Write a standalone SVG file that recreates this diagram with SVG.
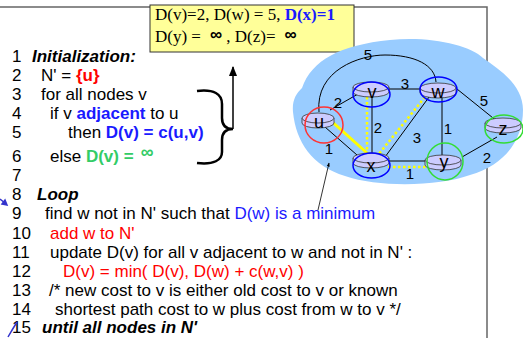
<svg xmlns="http://www.w3.org/2000/svg" width="523" height="338" viewBox="0 0 523 338">
<style>
.code{font-family:"Liberation Sans",Arial,sans-serif;font-size:17px;fill:#000}
.bi{font-weight:bold;font-style:italic}
.b{font-weight:bold}
.red{fill:#ff0000}
.blue{fill:#1a1aff}
.green{fill:#33cc66}
.box{font-family:"Liberation Serif","Times New Roman",serif;font-size:17px;fill:#000}
.inf{font-family:"Liberation Sans",Arial,sans-serif;font-weight:bold;font-size:18px}
.infs{font-family:"Liberation Sans",Arial,sans-serif;font-weight:bold;font-size:17px}
.edge{stroke:#000;stroke-width:1;fill:none}
.dot{stroke:#ffff00;stroke-width:2.5;stroke-dasharray:2.5 2.5;fill:none}
.disc{fill:#ccccff;stroke:#333;stroke-width:0.8}
.nl{font-family:"Liberation Sans",Arial,sans-serif;font-size:18px;fill:#000;text-anchor:middle}
.el{font-family:"Liberation Sans",Arial,sans-serif;font-size:15px;fill:#000;text-anchor:middle}
</style>
<defs>
<marker id="ah" viewBox="0 0 10 10" refX="9" refY="5" markerWidth="7" markerHeight="7" orient="auto"><path d="M0,1 L10,5 L0,9 Z" fill="#000"/></marker>
<marker id="ahs" viewBox="0 0 10 10" refX="9" refY="5" markerWidth="5" markerHeight="5" orient="auto"><path d="M0,1 L10,5 L0,9 Z" fill="#000"/></marker>
</defs>
<rect width="523" height="338" fill="#fff"/>
<path d="M0,7 H487 V338" fill="none" stroke="#666" stroke-width="1.5"/>
<g id="cost-box">
<rect x="150" y="5" width="204" height="47" fill="#ffff99" stroke="#333" stroke-width="1"/>
<text class="box" x="155" y="20">D(v)=2, D(w) = 5, <tspan class="b blue">D(x)=1</tspan></text>
<text class="box" x="155" y="42">D(y) =<tspan class="infs" dx="9" dy="-2">∞</tspan><tspan dy="2"> , D(z)=</tspan><tspan class="infs" dx="9" dy="-2">∞</tspan></text>
</g>
<g id="code">
<text class="code" x="12" y="62">1</text><text class="code bi" x="32" y="62">Initialization:</text>
<text class="code" x="12" y="81">2</text><text class="code" x="41" y="81">N' = <tspan class="b red">{u}</tspan></text>
<text class="code" x="12" y="100">3</text><text class="code" x="41" y="100">for all nodes v</text>
<text class="code" x="12" y="119">4</text><text class="code" x="50" y="119">if v <tspan class="b blue">adjacent</tspan> to u</text>
<text class="code" x="12" y="138">5</text><text class="code" x="68" y="138">then <tspan class="b blue">D(v) = c(u,v)</tspan></text>
<text class="code" x="12" y="162">6</text><text class="code" x="50" y="162">else <tspan class="b green">D(v) =</tspan><tspan class="green inf" dx="7" dy="-4">∞</tspan></text>
<text class="code" x="12" y="181">7</text>
<text class="code" x="12" y="200">8</text><text class="code bi" x="37" y="200">Loop</text>
<text class="code" x="12" y="219">9</text><text class="code" x="45" y="219">find w not in N' such that <tspan class="blue">D(w) is a minimum</tspan></text>
<text class="code" x="12" y="239">10</text><text class="code red" x="50" y="239">add w to N'</text>
<text class="code" x="12" y="258">11</text><text class="code" x="50" y="258">update D(v) for all v adjacent to w and not in N' :</text>
<text class="code" x="12" y="277">12</text><text class="code red" x="63" y="277">D(v) = min( D(v), D(w) + c(w,v) )</text>
<text class="code" x="12" y="296">13</text><text class="code" x="49" y="296">/* new cost to v is either old cost to v or known</text>
<text class="code" x="12" y="315">14</text><text class="code" x="55" y="315">shortest path cost to w plus cost from w to v */</text>
<text class="code" x="12" y="333">15</text><text class="code bi" x="42" y="333">until all nodes in N'</text>
</g>
<g id="brace">
<path d="M197,91 C214,89 222,94 222,104 L222,118 C222,126 226,129 233,129 C226,129 222,132 222,140 L222,152 C222,160 214,165 197,163" fill="none" stroke="#000" stroke-width="2.5"/>
<line x1="233" y1="129" x2="233" y2="67" stroke="#000" stroke-width="1.5" marker-end="url(#ah)"/>
</g>
<g id="left-marks" fill="none" stroke="#3333cc" stroke-width="1.5">
<path d="M0,199 L5,203"/><path d="M2,204 L7,205 L5,200 Z" fill="#3333cc"/>
<path d="M17,322 Q12,330 8,337"/>
</g>
<g id="network">
<path d="M302,88 C312,60 340,45 390,40 C430,36 470,45 483,58 C500,70 523,85 523,110 C523,140 505,165 470,175 C440,186 380,188 345,176 C312,166 296,142 293,112 C292,100 296,94 302,88 Z" fill="#99ccff"/>
</g>
<g id="connectors">
<path class="edge" d="M319,112 C315,70 360,55 385,55 C415,55 435,65 436,82"/>
<line class="edge" x1="330" y1="110" x2="358" y2="94"/>
<line class="edge" x1="325" y1="127" x2="357" y2="155"/>
<line class="edge" x1="388" y1="89" x2="421" y2="89"/>
<line class="edge" x1="372" y1="97" x2="372" y2="153"/>
<line class="edge" x1="432" y1="93" x2="385" y2="157"/>
<line class="edge" x1="442" y1="95" x2="442" y2="157"/>
<line class="edge" x1="457" y1="89" x2="498" y2="122"/>
<line class="edge" x1="387" y1="161" x2="427" y2="161"/>
<line class="edge" x1="462" y1="157" x2="497" y2="137"/>
<line x1="329" y1="119" x2="367" y2="153" stroke="#ffff00" stroke-width="3"/>
<line class="dot" x1="367" y1="97" x2="367" y2="153"/>
<line class="dot" x1="425" y1="97" x2="378" y2="155"/>
<line class="dot" x1="388" y1="167" x2="427" y2="167"/>
<line x1="318" y1="210" x2="329" y2="163" stroke="#000" stroke-width="0.8" marker-end="url(#ahs)"/>
<text class="el" x="368" y="60">5</text>
<text class="el" x="338" y="108">2</text>
<text class="el" x="405" y="89">3</text>
<text class="el" x="378" y="133">2</text>
<text class="el" x="417" y="143">3</text>
<text class="el" x="448" y="134">1</text>
<text class="el" x="484" y="106">5</text>
<text class="el" x="329" y="154">1</text>
<text class="el" x="410" y="179">1</text>
<text class="el" x="487" y="163">2</text>
</g>
<g id="node-u">
<path class="disc" d="M302,118 v5 a16,5 0 0 0 32,0 v-5"/><ellipse class="disc" cx="318" cy="118" rx="16" ry="5"/>
<text class="nl" x="319" y="128">u</text>
<ellipse cx="324" cy="125" rx="19" ry="18" fill="none" stroke="#ff3333" stroke-width="1.5"/>
</g>
<g id="node-v">
<path class="disc" d="M353,87 v5 a18,5 0 0 0 36,0 v-5"/><ellipse class="disc" cx="371" cy="87" rx="18" ry="5"/>
<text class="nl" x="372" y="98">v</text>
<ellipse cx="371.5" cy="94.5" rx="18.5" ry="12.5" fill="none" stroke="#0000ff" stroke-width="1.5"/>
</g>
<g id="node-w">
<path class="disc" d="M420,88 v5 a18,5 0 0 0 36,0 v-5"/><ellipse class="disc" cx="438" cy="88" rx="18" ry="5"/>
<text class="nl" x="438" y="98">w</text>
<ellipse cx="438.5" cy="89.5" rx="18.5" ry="12.5" fill="none" stroke="#0000ff" stroke-width="1.5"/>
</g>
<g id="node-z">
<path class="disc" d="M485,123 v5 a18,5 0 0 0 36,0 v-5"/><ellipse class="disc" cx="503" cy="123" rx="18" ry="5"/>
<text class="nl" x="503" y="135">z</text>
<ellipse cx="504" cy="129" rx="19" ry="14" fill="none" stroke="#33dd33" stroke-width="1.5"/>
</g>
<g id="node-x">
<path class="disc" d="M353,158 v5 a18,5 0 0 0 36,0 v-5"/><ellipse class="disc" cx="371" cy="158" rx="18" ry="5"/>
<text class="nl" x="371" y="172">x</text>
<ellipse cx="371.5" cy="165.5" rx="18.5" ry="12.5" fill="none" stroke="#0000ff" stroke-width="1.5"/>
</g>
<g id="node-y">
<path class="disc" d="M425,160 v5 a18,5 0 0 0 36,0 v-5"/><ellipse class="disc" cx="443" cy="160" rx="18" ry="5"/>
<text class="nl" x="444" y="168">y</text>
<ellipse cx="445" cy="161.5" rx="18" ry="18.5" fill="none" stroke="#33dd33" stroke-width="1.5"/>
</g>
</svg>
